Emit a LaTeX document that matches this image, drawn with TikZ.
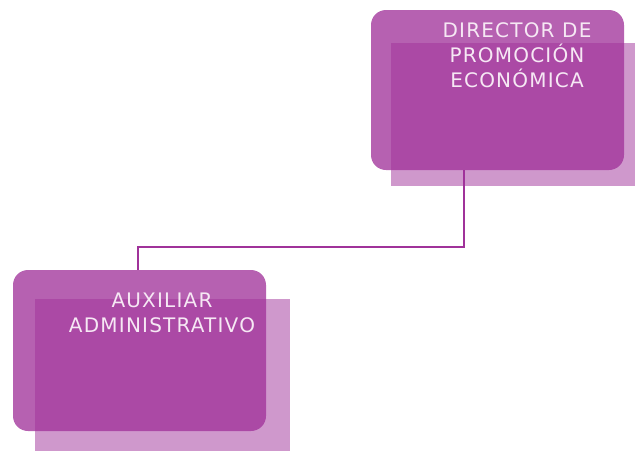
\documentclass[tikz,border=0pt]{standalone}
\usepackage{fontspec}
\setmainfont{DejaVu Sans}
\newfontfamily\postfont[LetterSpace=6]{DejaVu Sans}
\usetikzlibrary{calc}
\definecolor{orgpurple}{HTML}{A0329A}
\definecolor{orgtext}{HTML}{F6E8F4}
\tikzstyle{post}=[rounded corners=15pt,fill=orgpurple,fill opacity=0.77,minimum width=253pt,minimum height=160pt,inner sep=0pt]
\tikzstyle{postshadow}=[fill=orgpurple,fill opacity=0.5,inner sep=0pt]
\tikzstyle{posttext}=[text=orgtext,font=\postfont\fontsize{20}{25}\selectfont,align=center]
\tikzstyle{link}=[draw=orgpurple,line width=2.2pt]
\begin{document}
\begin{tikzpicture}[x=1pt,y=-1pt]
	\useasboundingbox (0,0) rectangle (635,451);
	% director
	\node[postshadow,minimum width=244pt,minimum height=143pt] (dirshadow) at (513,114.5) {};
	\node[post] (dir) at (497.5,90) {};
	\node[posttext] (dirtext) at (517,55) {DIRECTOR DE\\PROMOCIÓN\\ECONÓMICA};
	% auxiliar
	\node[postshadow,minimum width=255pt,minimum height=152pt] (auxshadow) at (162.5,375) {};
	\node[post,minimum height=161pt] (aux) at (139.5,350.5) {};
	\node[posttext] (auxtext) at (162,313) {AUXILIAR\\ADMINISTRATIVO};
	\draw[link] ([xshift=-33.5pt]dir.south) -- ++(0,77) -| ([xshift=-1.5pt]aux.north); %connector
\end{tikzpicture}
\end{document}
